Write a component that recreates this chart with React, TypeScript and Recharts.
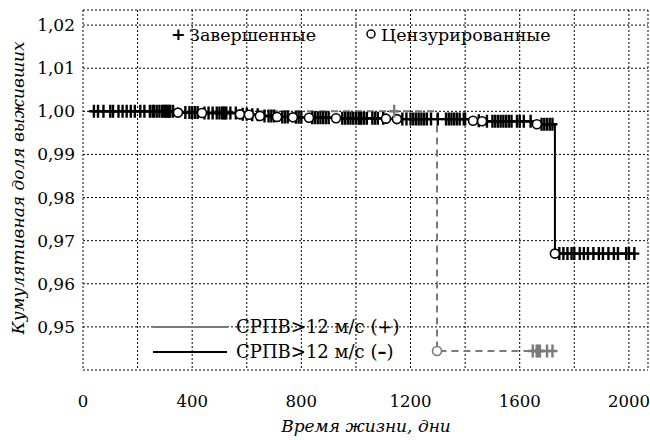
import React from "react";
import { ComposedChart, Line, Scatter, XAxis, YAxis, CartesianGrid } from "recharts";

// black curve: СРПВ>12 м/с (–)
const blackTimes = [30, 348, 436, 575, 608, 648, 711, 769, 828, 927, 1110, 1150, 1429, 1462, 1663, 1729, 2020];
const blackSurv = [1, 0.9997, 0.9996, 0.9993, 0.9992, 0.9989, 0.9987, 0.9986, 0.9985, 0.9984, 0.9983, 0.9982, 0.9978, 0.9977, 0.997, 0.967, 0.967];
const blackCensored = [
  40, 55, 75, 100, 110, 130, 145, 160, 175, 190, 210, 225, 245, 255, 260, 270, 280, 290, 295, 300, 305, 310, 315, 320,
  330, 375, 390, 400, 410, 420, 445, 460, 475, 490, 500, 510, 515, 520, 525, 540, 560, 585, 600, 620, 640, 665, 680, 690,
  700, 730, 740, 750, 780, 790, 800, 840, 850, 860, 870, 880, 890, 900, 950, 960, 970, 980, 990, 1000, 1010,
  1015, 1020, 1030, 1040, 1060, 1070, 1080, 1100, 1170, 1185, 1200, 1210, 1220, 1230, 1240, 1250, 1260, 1275,
  1300, 1330, 1340, 1350, 1360, 1370, 1380, 1395, 1400, 1450, 1480, 1500, 1510, 1520, 1530, 1540, 1550,
  1560, 1570, 1590, 1600, 1615, 1640, 1680, 1690, 1700, 1710, 1720, 1745, 1760, 1775, 1790, 1800, 1820,
  1835, 1850, 1870, 1890, 1905, 1925, 1945, 1960, 1990, 2000, 2020,
];

// gray curve: СРПВ>12 м/с (+)
const grayTimes = [30, 1297, 1736];
const graySurv = [1, 0.9444, 0.9444];
const grayCensored = [1140, 1648, 1662, 1668, 1674, 1700, 1720];

const xTicks = [0, 200, 400, 600, 800, 1000, 1200, 1400, 1600, 1800, 2000];
const yTicks = [0.94, 0.95, 0.96, 0.97, 0.98, 0.99, 1.0, 1.01, 1.02];

const FONT = "DejaVu Serif";

const curve = (times: number[], surv: number[]) => times.map((t, i) => ({ t, s: surv[i] }));
const survAt = (times: number[], surv: number[], t: number) => {
  let s = surv[0];
  times.forEach((tt, i) => {
    if (tt <= t) s = surv[i];
  });
  return s;
};
const censorPts = (times: number[], surv: number[], cens: number[]) =>
  cens.map((t) => ({ t, s: survAt(times, surv, t) }));
const eventPts = (times: number[], surv: number[]) =>
  times.slice(1, -1).map((t, i) => ({ t, s: surv[i + 1] }));

const blackLine = curve(blackTimes, blackSurv);
const grayLine = curve(grayTimes, graySurv);

const Plus = (color: string) => (p: any) => (
  <path
    d={`M${p.cx - 5},${p.cy} h10 M${p.cx},${p.cy - 6.5} v13`}
    stroke={color}
    strokeWidth={2.4}
    fill="none"
  />
);
const Circle = (color: string) => (p: any) => (
  <circle cx={p.cx} cy={p.cy} r={4.5} fill="#fff" stroke={color} strokeWidth={1.6} />
);

const XTick = (p: any) => {
  const v = p.payload.value;
  if (v % 400 !== 0) return <g />;
  return (
    <text x={p.x} y={407} textAnchor="middle" style={{ fontFamily: FONT, fontSize: 16.5 }} fill="#000">
      {v}
    </text>
  );
};
const YTick = (p: any) => {
  const v = p.payload.value;
  if (v < 0.945) return <g />;
  return (
    <text x={75} y={p.y + 6} textAnchor="end" style={{ fontFamily: FONT, fontSize: 17 }} fill="#000">
      {v.toFixed(2).replace(".", ",")}
    </text>
  );
};

export default function App() {
  return (
    <div style={{ position: "absolute", left: 0, top: 0, width: 650, height: 440, background: "#fff" }}>
      <ComposedChart width={650} height={440} margin={{ top: 10, right: 2, left: 0, bottom: 0 }}>
        <CartesianGrid stroke="#000" strokeDasharray="2 2" strokeWidth={1} />
        <XAxis
          type="number"
          dataKey="t"
          domain={[0, 2070]}
          ticks={xTicks}
          interval={0}
          allowDataOverflow
          axisLine={false}
          tickLine={false}
          tickSize={0}
          tickMargin={0}
          height={70}
          tick={<XTick />}
        />
        <YAxis
          type="number"
          dataKey="s"
          domain={[0.94, 1.0235]}
          ticks={yTicks}
          interval={0}
          allowDataOverflow
          axisLine={false}
          tickLine={false}
          tickSize={0}
          tickMargin={0}
          width={83}
          tick={<YTick />}
        />
        <Line
          data={grayLine}
          dataKey="s"
          type="stepAfter"
          stroke="#7a7a7a"
          strokeWidth={2}
          strokeDasharray="7 5"
          dot={false}
          isAnimationActive={false}
        />
        <Line
          data={blackLine}
          dataKey="s"
          type="stepAfter"
          stroke="#000"
          strokeWidth={2}
          dot={false}
          isAnimationActive={false}
        />
        <Scatter data={censorPts(blackTimes, blackSurv, blackCensored)} dataKey="s" shape={Plus("#000")} isAnimationActive={false} />
        <Scatter data={eventPts(blackTimes, blackSurv)} dataKey="s" shape={Circle("#000")} isAnimationActive={false} />
        <Scatter data={censorPts(grayTimes, graySurv, grayCensored)} dataKey="s" shape={Plus("#7a7a7a")} isAnimationActive={false} />
        <Scatter data={eventPts(grayTimes, graySurv)} dataKey="s" shape={Circle("#7a7a7a")} isAnimationActive={false} />
      </ComposedChart>
      <svg
        width={650}
        height={440}
        style={{ position: "absolute", left: 0, top: 0, pointerEvents: "none", fontFamily: FONT, fontSize: 17.5 }}
      >
        <text x={171} y={40} fontWeight="bold">+</text>
        <text x={189} y={41}>Завершенные</text>
        <circle cx={371} cy={34} r={4} fill="#fff" stroke="#000" strokeWidth={1.5} />
        <text x={381} y={41}>Цензурированные</text>

        <line x1={153} y1={327} x2={227} y2={327} stroke="#7a7a7a" strokeWidth={2} />
        <text x={236} y={333} fontSize={18}>СРПВ&gt;12 м/с (+)</text>
        <line x1={153} y1={352} x2={227} y2={352} stroke="#000" strokeWidth={2} />
        <text x={236} y={358} fontSize={18}>
          СРПВ&gt;12 м/с (<tspan fontWeight="bold">–</tspan>)
        </text>

        <text x={366} y={432} textAnchor="middle" fontStyle="italic" fontSize={17}>Время жизни, дни</text>
        <text transform="translate(24,188) rotate(-90)" textAnchor="middle" fontStyle="italic" fontSize={17}>
          Кумулятивная доля выживших
        </text>
      </svg>
    </div>
  );
}
